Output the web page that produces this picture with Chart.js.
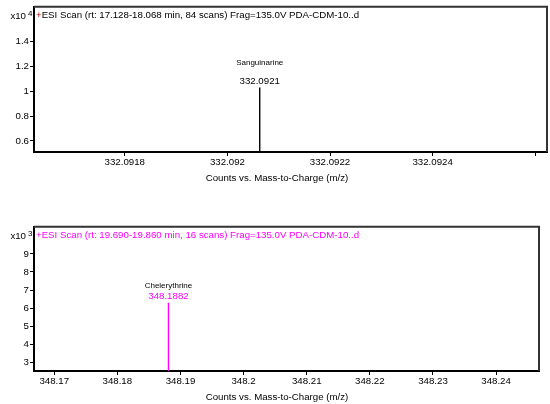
<!DOCTYPE html>
<html>
<head>
<meta charset="utf-8">
<script src="https://cdn.jsdelivr.net/npm/chart.js@4/dist/chart.umd.min.js"></script>
<style>
  html, body { margin: 0; padding: 0; background: #fff; }
  body { width: 550px; height: 404px; position: relative; overflow: hidden; }
  .box { position: absolute; left: 0; width: 550px; }
</style>
</head>
<body>
<div class="box" style="top:0;height:188px"><canvas id="top"></canvas></div>
<div class="box" style="top:220px;height:184px"><canvas id="bottom"></canvas></div>
<script>
// top spectrum (x10^4 counts)
const topTitle = 'ESI Scan (rt: 17.128-18.068 min, 84 scans) Frag=135.0V PDA-CDM-10..d';
const topCompound = ['Sanguinarine'];
const topMz = [332.0921];
const topPeakX = [332.092063];
const topCounts = [1.03];
const topXTicks = [332.0918, 332.092, 332.0922, 332.0924, 332.0926];
const topYTicks = [0.6, 0.8, 1, 1.2, 1.4];
const topXRange = [332.091623, 332.092623];
const topYRange = [0.51, 1.68];

// bottom spectrum (x10^3 counts)
const botTitle = 'ESI Scan (rt: 19.690-19.860 min, 16 scans) Frag=135.0V PDA-CDM-10..d';
const botCompound = ['Chelerythrine'];
const botMz = [348.1882];
const botPeakX = [348.1881];
const botCounts = [6.31];
const botXTicks = [348.17, 348.18, 348.19, 348.2, 348.21, 348.22, 348.23, 348.24];
const botYTicks = [3, 4, 5, 6, 7, 8, 9];
const botXRange = [348.1668, 348.2468];
const botYRange = [2.54, 10.49];

const xAxisTitle = 'Counts vs. Mass-to-Charge (m/z)';
const FONT = 'Liberation Sans, Arial, sans-serif';
const FS = 9.7;

function makeChart(id, o) {
  const sticks = o.peakX.map((x, i) => ({
    label: o.compound[i],
    data: [{ x: x, y: o.yRange[0] }, { x: x, y: o.counts[i] }],
    borderColor: o.color,
    borderWidth: 1.4,
    pointRadius: 0,
    showLine: true
  }));

  const decor = {
    id: 'decor',
    afterDraw(chart) {
      const ctx = chart.ctx;
      const a = chart.chartArea;
      const xs = chart.scales.x, ys = chart.scales.y;
      ctx.save();
      // frame on top and right
      ctx.strokeStyle = '#333';
      ctx.lineWidth = 2;
      ctx.beginPath();
      ctx.moveTo(a.left, a.top);
      ctx.lineTo(a.right, a.top);
      ctx.lineTo(a.right, a.bottom);
      ctx.stroke();
      // scan title
      ctx.textBaseline = 'middle';
      ctx.textAlign = 'left';
      ctx.font = FS + 'px ' + FONT;
      ctx.fillStyle = o.plusColor;
      ctx.fillText('+', a.left + 2, a.top + 9);
      ctx.fillStyle = o.titleColor;
      ctx.fillText(o.title, a.left + 2 + ctx.measureText('+').width, a.top + 9);
      // x axis title
      ctx.fillStyle = '#000';
      ctx.textAlign = 'center';
      ctx.fillText(xAxisTitle, 277, o.axisTitleY);
      // exponent
      ctx.textAlign = 'right';
      ctx.fillText('x10', a.left - 8, a.top + 10);
      ctx.font = '8px ' + FONT;
      ctx.textAlign = 'left';
      ctx.fillText(o.exp, a.left - 6, a.top + 7);
      // peak labels
      ctx.textAlign = 'center';
      o.peakX.forEach((x, i) => {
        const px = xs.getPixelForValue(x);
        const py = ys.getPixelForValue(o.counts[i]);
        ctx.fillStyle = '#000';
        ctx.font = '8px ' + FONT;
        ctx.fillText(o.compound[i], px, py - o.nameGap);
        ctx.fillStyle = o.color;
        ctx.font = FS + 'px ' + FONT;
        ctx.fillText(String(o.mz[i]), px, py - 6);
      });
      ctx.restore();
    }
  };

  return new Chart(document.getElementById(id), {
    type: 'scatter',
    data: { datasets: sticks },
    options: {
      responsive: true,
      maintainAspectRatio: false,
      animation: false,
      layout: { padding: { top: o.padTop, right: o.padRight, left: 0, bottom: 0 } },
      plugins: { legend: { display: false }, tooltip: { enabled: false } },
      scales: {
        x: {
          type: 'linear',
          min: o.xRange[0],
          max: o.xRange[1],
          afterBuildTicks: s => { s.ticks = o.xTicks.map(v => ({ value: v })); },
          afterFit: s => { s.height = o.xHeight; },
          ticks: {
            autoSkip: false, maxRotation: 0, padding: 1, color: '#000',
            font: { family: FONT, size: FS },
            callback: v => (v > o.xLabelMax ? '' : String(Number(v.toFixed(4))))
          },
          grid: { drawOnChartArea: false, drawTicks: true, tickLength: 4, color: '#000' },
          border: { display: true, color: '#000', width: 2 }
        },
        y: {
          min: o.yRange[0],
          max: o.yRange[1],
          afterBuildTicks: s => { s.ticks = o.yTicks.map(v => ({ value: v })); },
          afterFit: s => { s.width = 34; },
          ticks: {
            padding: 1, color: '#000', font: { family: FONT, size: FS },
            callback: v => String(Number(v.toFixed(2)))
          },
          grid: { drawOnChartArea: false, drawTicks: true, tickLength: 4, color: '#000' },
          border: { display: true, color: '#000', width: 2 }
        }
      }
    },
    plugins: [decor]
  });
}

makeChart('top', {
  title: topTitle, compound: topCompound, mz: topMz, peakX: topPeakX, counts: topCounts,
  xTicks: topXTicks, yTicks: topYTicks, xRange: topXRange, yRange: topYRange,
  color: '#000', titleColor: '#000', plusColor: '#c00000', exp: '4',
  padTop: 4, padRight: 3, xHeight: 36, xLabelMax: 332.0925, axisTitleY: 178, nameGap: 25
});

makeChart('bottom', {
  title: botTitle, compound: botCompound, mz: botMz, peakX: botPeakX, counts: botCounts,
  xTicks: botXTicks, yTicks: botYTicks, xRange: botXRange, yRange: botYRange,
  color: '#ff00ff', titleColor: '#ff00ff', plusColor: '#ff00ff', exp: '3',
  padTop: 6, padRight: 11, xHeight: 33, xLabelMax: 999, axisTitleY: 177, nameGap: 17
});
</script>
</body>
</html>
